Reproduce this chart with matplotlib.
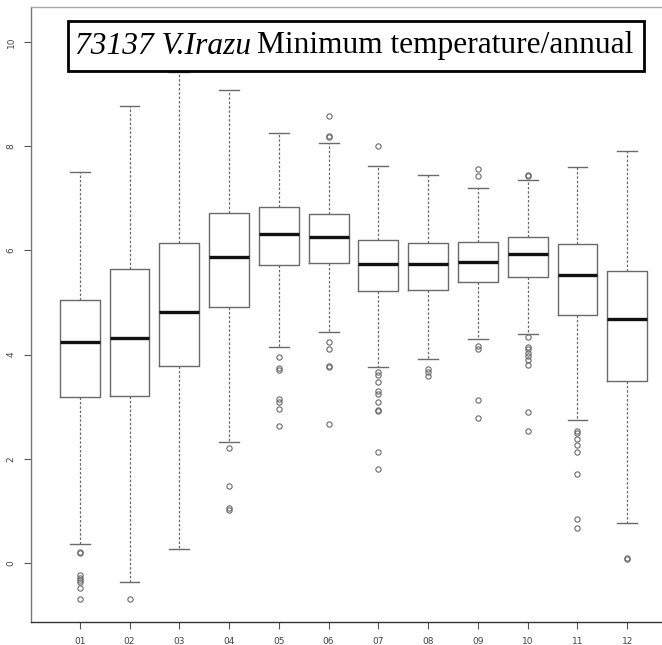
import matplotlib
matplotlib.use("Agg")
import matplotlib.pyplot as plt
from matplotlib.patches import Rectangle

# monthly min temperature stats
months = ["01", "02", "03", "04", "05", "06", "07", "08", "09", "10", "11", "12"]
whislo = [0.36, -0.36, 0.27, 2.32, 4.15, 4.43, 3.76, 3.92, 4.30, 4.40, 2.74, 0.77]
q1 = [3.19, 3.20, 3.78, 4.91, 5.72, 5.76, 5.22, 5.24, 5.39, 5.49, 4.76, 3.49]
med = [4.24, 4.32, 4.82, 5.87, 6.31, 6.26, 5.74, 5.74, 5.78, 5.93, 5.53, 4.68]
q3 = [5.05, 5.64, 6.14, 6.72, 6.83, 6.70, 6.20, 6.14, 6.16, 6.26, 6.12, 5.60]
whishi = [7.50, 8.77, 9.42, 9.08, 8.25, 8.06, 7.62, 7.45, 7.20, 7.35, 7.60, 7.91]
fliers = [
    [0.22, 0.19, -0.23, -0.28, -0.32, -0.36, -0.47, -0.69],
    [-0.69],
    [],
    [2.21, 1.48, 1.06, 1.02],
    [3.95, 3.74, 3.70, 3.15, 3.09, 2.96, 2.63],
    [8.58, 8.20, 8.17, 4.24, 4.11, 3.78, 3.76, 2.67],
    [8.00, 3.67, 3.61, 3.47, 3.30, 3.24, 3.09, 2.94, 2.92, 2.13, 1.80],
    [3.72, 3.67, 3.59],
    [7.56, 7.43, 4.17, 4.11, 3.13, 2.79],
    [7.45, 7.43, 4.34, 4.15, 4.10, 4.03, 3.97, 3.90, 3.80, 2.90, 2.54],
    [2.53, 2.50, 2.38, 2.27, 2.13, 1.71, 0.85, 0.67],
    [0.10, 0.07],
]

stats = []
for i in range(len(months)):
    stats.append(dict(whislo=whislo[i], q1=q1[i], med=med[i], q3=q3[i],
                      whishi=whishi[i], fliers=fliers[i], label=months[i]))

W, H = 662, 645
fig = plt.figure(figsize=(W / 100, H / 100), dpi=100)
# axes runs off the right edge like the cropped original
ax = fig.add_axes([31 / W, (H - 622) / H, (676 - 31) / W, (622 - 7) / H])

grey = "#6a6a6a"
ax.bxp(stats, positions=range(1, 13), widths=0.8, patch_artist=False,
       boxprops=dict(color=grey, linewidth=1.0),
       medianprops=dict(color="#111111", linewidth=2.4),
       whiskerprops=dict(color=grey, linewidth=0.9, linestyle=(0, (2, 1.5))),
       capprops=dict(color=grey, linewidth=1.0),
       flierprops=dict(marker="o", markersize=3.8, markerfacecolor="none",
                       markeredgecolor=grey, markeredgewidth=0.8))

ax.set_xlim(0.02, 12.98)
ax.set_ylim(-1.13, 10.67)
ax.set_yticks([0, 2, 4, 6, 8, 10])
ax.set_yticklabels(["0", "2", "4", "6", "8", "10"], rotation=90, va="center")
ax.set_xticks(range(1, 13))
ax.set_xticklabels(months)
ax.tick_params(axis="both", direction="out", length=5, width=0.8, color="#555555",
               labelsize=6.5, labelcolor="#444444", pad=6)
ax.spines["right"].set_visible(False)
ax.spines["top"].set_color("#aaaaaa")
ax.spines["left"].set_color("#777777")
ax.spines["bottom"].set_color("#333333")
for s in ax.spines.values():
    s.set_linewidth(1.0)

# title box
fig.patches.append(Rectangle((68 / W, 1 - 71 / H), (644 - 68) / W, 50 / H,
                             transform=fig.transFigure, facecolor="white",
                             edgecolor="black", linewidth=2.0, zorder=5))
t1 = fig.text(75 / W, 1 - 46 / H, "73137 V.Irazu", family="Liberation Serif",
              style="italic", fontsize=22.6, va="center", ha="left", zorder=6)
fig.canvas.draw()
bb = t1.get_window_extent()
fig.text(bb.x1 / W + 6 / W, 1 - 46 / H, "Minimum temperature/annual",
         family="Liberation Serif", fontsize=22.6, va="center", ha="left", zorder=6)

fig.savefig("out.png", dpi=100)
